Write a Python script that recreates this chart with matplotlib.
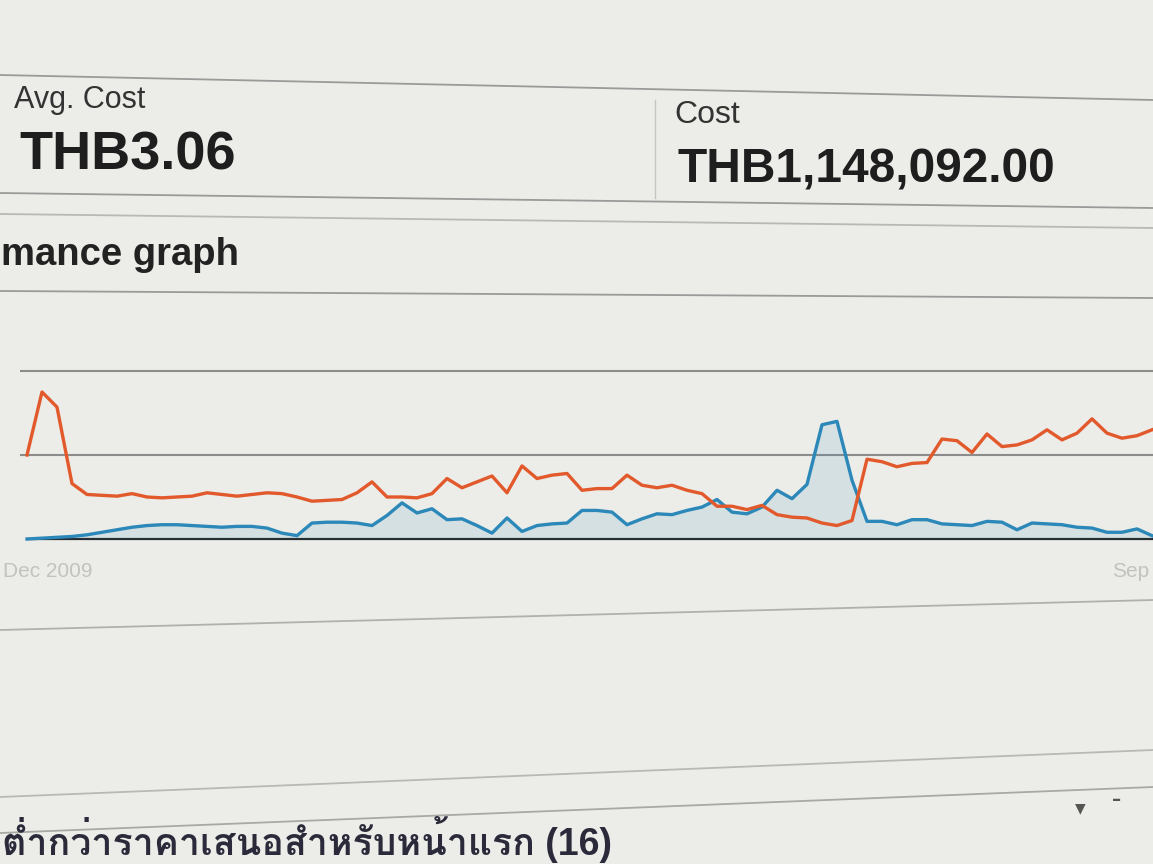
import numpy as np
import matplotlib
matplotlib.use("Agg")
import matplotlib.pyplot as plt
from matplotlib.lines import Line2D
from matplotlib import font_manager as fm
from matplotlib.ft2font import FT2Font

# ---- data (grid units: 1 = first gridline) ----
orange = [1.00, 1.75, 1.57, 0.66, 0.53, 0.52, 0.51, 0.54, 0.50, 0.49,
          0.50, 0.51, 0.55, 0.53, 0.51, 0.53, 0.55, 0.54, 0.50, 0.45,
          0.46, 0.47, 0.55, 0.68, 0.50, 0.50, 0.49, 0.54, 0.72, 0.61,
          0.68, 0.75, 0.55, 0.87, 0.72, 0.76, 0.78, 0.58, 0.60, 0.60,
          0.76, 0.64, 0.61, 0.64, 0.58, 0.54, 0.39, 0.39, 0.35, 0.40,
          0.29, 0.26, 0.25, 0.19, 0.16, 0.22, 0.95, 0.92, 0.86, 0.90,
          0.91, 1.19, 1.17, 1.03, 1.25, 1.10, 1.12, 1.18, 1.30, 1.18,
          1.26, 1.43, 1.26, 1.20, 1.23, 1.30]
blue = [0.00, 0.01, 0.02, 0.03, 0.05, 0.08, 0.11, 0.14, 0.16, 0.17,
        0.17, 0.16, 0.15, 0.14, 0.15, 0.15, 0.13, 0.07, 0.04, 0.19,
        0.20, 0.20, 0.19, 0.16, 0.28, 0.43, 0.31, 0.36, 0.23, 0.24,
        0.16, 0.07, 0.25, 0.09, 0.16, 0.18, 0.19, 0.34, 0.34, 0.32,
        0.17, 0.24, 0.30, 0.29, 0.34, 0.38, 0.47, 0.32, 0.30, 0.38,
        0.58, 0.48, 0.65, 1.36, 1.40, 0.70, 0.21, 0.21, 0.17, 0.23,
        0.23, 0.18, 0.17, 0.16, 0.21, 0.20, 0.11, 0.19, 0.18, 0.17,
        0.14, 0.13, 0.08, 0.08, 0.12, 0.04]
tick_pos = [1.4, 73.6]
tick_labels = ["Dec 2009", "Sep"]

stat_labels = ["Avg. Cost", "Cost"]
stat_values = ["THB3.06", "THB1,148,092.00"]
section_title = "mance graph"
table_title = "ต่ำกว่าราคาเสนอสำหรับหน้าแรก (16)"

# find a font that can draw Thai, if any
thai_fam = None
for f in fm.fontManager.ttflist:
    try:
        if ord("ต") in FT2Font(f.fname).get_charmap():
            thai_fam = f.name
            break
    except Exception:
        pass
latin = "Liberation Sans"
fams = [latin] + ([thai_fam] if thai_fam else []) + ["DejaVu Sans"]

W, H = 1153, 864
bg = "#ecece8"
fig = plt.figure(figsize=(W / 100, H / 100), dpi=100, facecolor=bg)

def fx(x):
    return x / W

def fy(y):
    return 1 - y / H

def hline(x0, y0, x1, y1, color="#9a9a9a", lw=1.3):
    fig.add_artist(Line2D([fx(x0), fx(x1)], [fy(y0), fy(y1)], color=color, lw=lw))

# page frame lines (photo is slightly skewed)
hline(0, 75, W, 100)
hline(655, 100, 655, 198, color="#c4c4c0", lw=1.0)
hline(0, 193, W, 208)
hline(0, 214, W, 228, color="#b8b8b4")
hline(0, 291, W, 298)
hline(0, 630, W, 600, color="#b0b0ac")
hline(0, 797, W, 750, color="#b8b8b4")
hline(0, 833, W, 787, color="#a8a8a4")

# summary boxes
fig.text(fx(14), fy(100), stat_labels[0], fontsize=22, family=fams, color="#333333", va="center")
fig.text(fx(19), fy(156), stat_values[0], fontsize=39, family=fams, weight="bold", color="#1e1e1e", va="center")
fig.text(fx(674), fy(115), stat_labels[1], fontsize=23, family=fams, color="#333333", va="center")
fig.text(fx(677), fy(170), stat_values[1], fontsize=34.5, family=fams, weight="bold", color="#1e1e1e", va="center")
fig.text(fx(1), fy(255), section_title, fontsize=27.5, family=fams, weight="bold", color="#222222",
         ha="left", va="center")

# chart: 15 px per point, first point at x=27, zero line at y=539, 84 px per unit
left_px, right_px, top_px, bot_px = 20, 1180, 360, 545
ax = fig.add_axes([fx(left_px), fy(bot_px), fx(right_px - left_px), (bot_px - top_px) / H])
ax.set_facecolor("none")
ax.set_xlim(-(27 - left_px) / 15, (right_px - 27) / 15)
ax.set_ylim(-(bot_px - 539) / 84, (539 - top_px) / 84)
for s in ax.spines.values():
    s.set_visible(False)

x = np.arange(len(orange))
ax.axhline(1, color="#8c8c8c", lw=1.5, zorder=1)
ax.axhline(2, color="#8c8c8c", lw=1.5, zorder=1)
ax.hlines(0, 0, 80, color="#262626", lw=1.6, zorder=2)
ax.fill_between(x, 0, blue, color="#2f8fbf", alpha=0.12, lw=0, zorder=2)
ax.plot(x, blue, color="#2b88b8", lw=2.4, zorder=3, solid_joinstyle="round")
ax.plot(x, orange, color="#e2592c", lw=2.4, zorder=4, solid_joinstyle="round")

ax.set_yticks([])
ax.set_xticks(tick_pos)
ax.set_xticklabels(tick_labels, family=fams, fontsize=15, color="#c2c2be")
ax.tick_params(axis="x", length=0, pad=12)

# bottom table header and small controls
fig.text(fx(2), fy(855), table_title, fontsize=27, family=fams, weight="bold", color="#2a2a3a",
         ha="left", va="baseline")
fig.text(fx(1080), fy(808), "▼", fontsize=10, family=["DejaVu Sans"], color="#555555", ha="center", va="center")
fig.text(fx(1117), fy(800), "–", fontsize=13, family=["DejaVu Sans"], weight="bold", color="#555555",
         ha="center", va="center")

fig.savefig("out.png", dpi=100, facecolor=bg)
